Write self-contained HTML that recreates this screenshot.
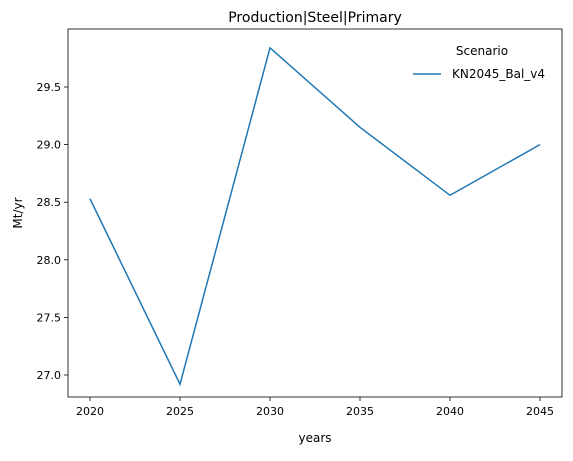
<!DOCTYPE html>
<html><head><meta charset="utf-8"><style>
body{margin:0;background:#fff;}
svg text{font-family:"DejaVu Sans","Liberation Sans",sans-serif;fill:#000;}
</style></head><body>
<svg id="chart" width="573" height="456" xmlns="http://www.w3.org/2000/svg">
<text x="315" y="22" font-size="14" text-anchor="middle">Production|Steel|Primary</text>
<g id="axes"></g>
<rect x="68" y="29" width="494" height="368" fill="none" stroke="#000" stroke-width="0.8"/>
<text x="315" y="442" font-size="12" text-anchor="middle">years</text>
<text x="22" y="213" font-size="12" text-anchor="middle" transform="rotate(-90 22 213)">Mt/yr</text>
<g>
<text x="482" y="55" font-size="12" text-anchor="middle">Scenario</text>
<line x1="413" y1="74" x2="441" y2="74" stroke="#1f77b4" stroke-width="1.5"/>
<text x="452" y="78" font-size="12">KN2045_Bal_v4</text>
</g>
</svg>
<script>
const years=[2020,2025,2030,2035,2040,2045];
const values=[28.53,26.92,29.84,29.15,28.56,29.0];
const xTicks=[2020,2025,2030,2035,2040,2045];
const yTicks=[27.0,27.5,28.0,28.5,29.0,29.5];
const NS="http://www.w3.org/2000/svg";
const x=v=>90+(v-2020)*18;
const y=v=>375-(v-27.0)*115.2;
const g=document.getElementById('axes');
function mk(t,a){const e=document.createElementNS(NS,t);for(const k in a)e.setAttribute(k,a[k]);return e;}
xTicks.forEach(t=>{
 const l=mk('line',{x1:x(t),x2:x(t),y1:397,y2:401,stroke:'#000','stroke-width':0.8});
 
 
 g.appendChild(l);
 const tx=mk('text',{x:x(t),y:415,'font-size':11,'text-anchor':'middle'});
 tx.textContent=t;
 
 
 g.appendChild(tx);
});
yTicks.forEach(t=>{
 const l=mk('line',{x1:64,x2:68,y1:y(t),y2:y(t),stroke:'#000','stroke-width':0.8});
 
 
 g.appendChild(l);
 const tx=mk('text',{x:61,y:y(t)+4,'font-size':11,'text-anchor':'end'});
 tx.textContent=t.toFixed(1);
 
 
 g.appendChild(tx);
});
const pts=years.map((yr,i)=>x(yr)+','+y(values[i])).join(' ');
const pl=mk('polyline',{points:pts,fill:'none',stroke:'#1f77b4','stroke-width':1.5});


g.appendChild(pl);
</script>
</body></html>
